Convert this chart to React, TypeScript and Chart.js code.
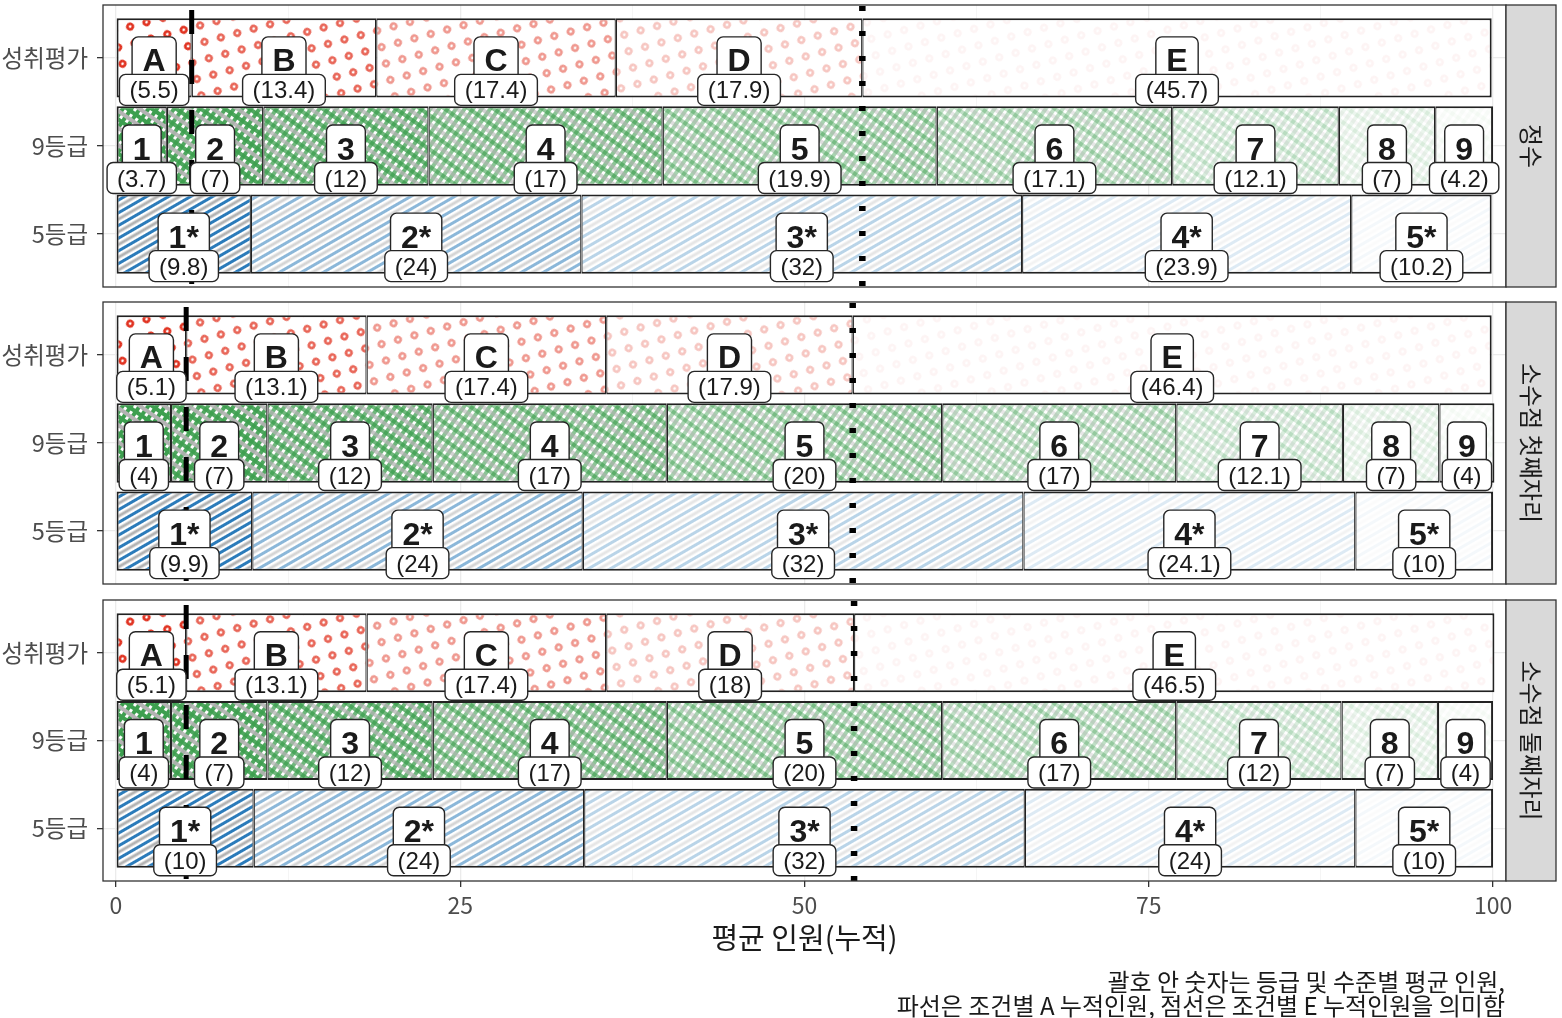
import { useEffect, useRef } from "react";
import { Chart, registerables } from "chart.js";

Chart.register(...registerables);

// 행(카테고리)과 패널
const ROWS = ["성취평가", "9등급", "5등급"];
const PANELS = ["정수", "소수점 첫째자리", "소수점 둘째자리"];

// 수준 이름
const ACHIEVE_LEVELS = ["A", "B", "C", "D", "E"];
const GRADE9_LEVELS = ["1", "2", "3", "4", "5", "6", "7", "8", "9"];
const GRADE5_LEVELS = ["1*", "2*", "3*", "4*", "5*"];

// 정수
const INT_ACHIEVE = [5.5, 13.4, 17.4, 17.9, 45.7];
const INT_GRADE9 = [3.7, 7, 12, 17, 19.9, 17.1, 12.1, 7, 4.2];
const INT_GRADE5 = [9.8, 24, 32, 23.9, 10.2];

// 소수점 첫째자리
const D1_ACHIEVE = [5.1, 13.1, 17.4, 17.9, 46.4];
const D1_GRADE9 = [4, 7, 12, 17, 20, 17, 12.1, 7, 4];
const D1_GRADE5 = [9.9, 24, 32, 24.1, 10];

// 소수점 둘째자리
const D2_ACHIEVE = [5.1, 13.1, 17.4, 18, 46.5];
const D2_GRADE9 = [4, 7, 12, 17, 20, 17, 12, 7, 4];
const D2_GRADE5 = [10, 24, 32, 24, 10];

const X_MAJOR = [0, 25, 50, 75, 100];
const X_MINOR = [12.5, 37.5, 62.5, 87.5];

const X_TITLE = "평균 인원(누적)";
const CAPTION = [
  "괄호 안 숫자는 등급 및 수준별 평균 인원,",
  "파선은 조건별 A 누적인원, 점선은 조건별 E 누적인원을 의미함",
];

const LEVELS = [ACHIEVE_LEVELS, GRADE9_LEVELS, GRADE5_LEVELS];
const PANEL_VALUES = [
  [INT_ACHIEVE, INT_GRADE9, INT_GRADE5],
  [D1_ACHIEVE, D1_GRADE9, D1_GRADE5],
  [D2_ACHIEVE, D2_GRADE9, D2_GRADE5],
];

// 패턴 농도 (수준이 낮을수록 옅어짐)
const RED_ALPHA = [1, 0.75, 0.5, 0.28, 0.05];
const GREEN_ALPHA = [1, 0.9, 0.75, 0.6, 0.45, 0.33, 0.2, 0.1, 0.03];
const BLUE_ALPHA = [1, 0.55, 0.33, 0.16, 0.05];

const RED = "#e0301e";
const GREEN = "#3d9f4f";
const BLUE = "#2b7bba";
const GREY = "#b3b3b3";

const KR_FONT = "'Noto Sans CJK KR', 'Noto Sans', sans-serif";
const LABEL_FONT = "'Liberation Sans', Arial, sans-serif";

function tile(size: number, draw: (g: CanvasRenderingContext2D) => void) {
  const c = document.createElement("canvas");
  c.width = size;
  c.height = size;
  const g = c.getContext("2d")!;
  g.fillStyle = "#fff";
  g.fillRect(0, 0, size, size);
  draw(g);
  return c;
}

function makePattern(ctx: CanvasRenderingContext2D, src: HTMLCanvasElement, angle: number) {
  const p = ctx.createPattern(src, "repeat")!;
  p.setTransform(new DOMMatrix().rotate(angle));
  return p;
}

function dotPattern(ctx: CanvasRenderingContext2D, alpha: number) {
  const t = tile(24, (g) => {
    g.globalAlpha = alpha;
    g.strokeStyle = RED;
    g.lineWidth = 2.6;
    for (const [x, y] of [[6, 6], [18, 18]]) {
      g.beginPath();
      g.arc(x, y, 2.7, 0, Math.PI * 2);
      g.stroke();
    }
  });
  return makePattern(ctx, t, 30);
}

function crossPattern(ctx: CanvasRenderingContext2D, alpha: number) {
  const t = tile(14, (g) => {
    g.globalAlpha = alpha;
    g.fillStyle = GREEN;
    g.fillRect(0, 0, 4, 14);
    g.fillRect(7, 0, 4, 14);
    g.fillRect(0, 0, 14, 4);
    g.fillStyle = GREY;
    g.fillRect(0, 7, 14, 4);
  });
  return makePattern(ctx, t, 35);
}

function stripePattern(ctx: CanvasRenderingContext2D, alpha: number) {
  const t = tile(11, (g) => {
    g.globalAlpha = alpha;
    g.fillStyle = BLUE;
    g.fillRect(0, 0, 11, 3);
    g.fillStyle = GREY;
    g.fillRect(0, 5.5, 11, 3);
  });
  return makePattern(ctx, t, -30);
}

function roundBox(ctx: CanvasRenderingContext2D, x: number, y: number, w: number, h: number) {
  ctx.beginPath();
  ctx.roundRect(x, y, w, h, 6);
  ctx.fillStyle = "#fff";
  ctx.fill();
  ctx.lineWidth = 1.4;
  ctx.strokeStyle = "#262626";
  ctx.stroke();
}

function FacetPanel({
  panel,
  top,
  height,
  showAxis,
}: {
  panel: number;
  top: number;
  height: number;
  showAxis: boolean;
}) {
  const canvasRef = useRef<HTMLCanvasElement>(null);

  useEffect(() => {
    const canvas = canvasRef.current;
    if (!canvas) return;
    const ctx = canvas.getContext("2d");
    if (!ctx) return;

    const values = PANEL_VALUES[panel];
    const patterns = [
      RED_ALPHA.map((a) => dotPattern(ctx, a)),
      GREEN_ALPHA.map((a) => crossPattern(ctx, a)),
      BLUE_ALPHA.map((a) => stripePattern(ctx, a)),
    ];

    const datasets = values.map((row, r) => {
      let cum = 0;
      const data = row.map((v) => {
        const seg = { x: [cum, cum + v], y: r + 1 };
        cum += v;
        return seg;
      });
      return {
        label: ROWS[r],
        data,
        grouped: false,
        barPercentage: 0.9,
        categoryPercentage: 1,
        backgroundColor: (c: any) => patterns[r][c.dataIndex],
        borderColor: "#222",
        borderSkipped: false,
        borderWidth: (c: any) => ({
          top: 2,
          bottom: 2,
          left: c.dataIndex === 0 ? 2 : 1.25,
          right: c.dataIndex === row.length - 1 ? 2 : 1.25,
        }),
      };
    });

    const achieve = values[0];
    const aCum = achieve[0];
    const eStart = achieve.slice(0, 4).reduce((s, v) => s + v, 0);

    const facetPlugin = {
      id: "facet",
      afterDatasetsDraw(chart: any) {
        const { ctx: g, chartArea: area, scales } = chart;
        const xs = scales.x;
        g.save();
        // 파선 (A 누적)
        g.strokeStyle = "#000";
        g.lineWidth = 5;
        g.setLineDash([24, 26]);
        g.lineDashOffset = -5;
        const xa = xs.getPixelForValue(aCum);
        g.beginPath();
        g.moveTo(xa, area.top);
        g.lineTo(xa, area.bottom);
        g.stroke();
        // 점선 (E 시작)
        g.lineWidth = 6.5;
        g.setLineDash([5, 20]);
        g.lineDashOffset = -1;
        const xe = xs.getPixelForValue(eStart);
        g.beginPath();
        g.moveTo(xe, area.top);
        g.lineTo(xe, area.bottom);
        g.stroke();
        g.setLineDash([]);

        // 라벨
        const items: { cx: number; cy: number; lv: string; val: string }[] = [];
        values.forEach((row, r) => {
          const meta = chart.getDatasetMeta(r);
          row.forEach((v, i) => {
            const el = meta.data[i];
            items.push({
              cx: (el.x + el.base) / 2,
              cy: el.y,
              lv: LEVELS[r][i],
              val: `(${v})`,
            });
          });
        });
        g.textAlign = "center";
        g.textBaseline = "alphabetic";
        g.font = `bold 32px ${LABEL_FONT}`;
        for (const it of items) {
          const w = g.measureText(it.lv).width + 21;
          roundBox(g, it.cx - w / 2, it.cy - 21, w, 44);
          g.fillStyle = "#1a1a1a";
          g.fillText(it.lv, it.cx, it.cy + 13.5);
        }
        g.font = `24px ${LABEL_FONT}`;
        for (const it of items) {
          const w = g.measureText(it.val).width + 20;
          roundBox(g, it.cx - w / 2, it.cy + 16.5, w, 31);
          g.fillStyle = "#1a1a1a";
          g.fillText(it.val, it.cx, it.cy + 40.5);
        }

        // 패널 테두리
        g.lineWidth = 1.3;
        g.strokeStyle = "#333";
        g.strokeRect(area.left, area.top, area.right - area.left, area.bottom - area.top);

        // 스트립
        const sx = area.right;
        const sw = 50;
        g.fillStyle = "#d9d9d9";
        g.fillRect(sx, area.top, sw, area.bottom - area.top);
        g.strokeRect(sx, area.top, sw, area.bottom - area.top);
        g.translate(sx + sw / 2, (area.top + area.bottom) / 2);
        g.rotate(Math.PI / 2);
        g.fillStyle = "#1a1a1a";
        g.font = `24px ${KR_FONT}`;
        g.textAlign = "center";
        g.textBaseline = "middle";
        g.fillText(PANELS[panel], 0, 0);
        g.restore();
      },
    };

    const chart = new Chart(ctx, {
      type: "bar",
      data: { datasets: datasets as any },
      options: {
        indexAxis: "y",
        animation: false,
        responsive: false,
        events: [],
        layout: { padding: { top: 5, bottom: showAxis ? 0 : 5, left: 0, right: 56 } },
        plugins: {
          legend: { display: false },
          tooltip: { enabled: false },
        },
        scales: {
          x: {
            type: "linear",
            min: -0.94,
            max: 100.94,
            afterBuildTicks: (s: any) => {
              s.ticks = [...X_MAJOR, ...X_MINOR]
                .sort((a, b) => a - b)
                .map((v) => ({ value: v }));
            },
            afterFit: (s: any) => {
              s.height = showAxis ? 137 : 0;
              s.paddingLeft = 0;
              s.paddingRight = 0;
            },
            border: { display: false },
            grid: {
              color: (c: any) => (X_MAJOR.includes(c.tick.value) ? "#ebebeb" : "#f3f3f3"),
              lineWidth: (c: any) => (X_MAJOR.includes(c.tick.value) ? 1.3 : 0.8),
              drawTicks: showAxis,
              tickLength: 6,
              tickWidth: 1.3,
              tickColor: (c: any) => (X_MAJOR.includes(c.tick.value) ? "#333" : "rgba(0,0,0,0)"),
            },
            ticks: {
              display: showAxis,
              autoSkip: false,
              maxRotation: 0,
              padding: 4,
              color: "#4d4d4d",
              font: { family: KR_FONT, size: 23 },
              callback: (v: any) => (X_MAJOR.includes(v) ? String(v) : ""),
            },
            title: {
              display: showAxis,
              text: X_TITLE,
              color: "#1a1a1a",
              font: { family: KR_FONT, size: 29 },
              padding: { top: 0, bottom: 63 },
            },
          },
          y: {
            type: "linear",
            reverse: true,
            offset: false,
            min: 0.4,
            max: 3.6,
            afterBuildTicks: (s: any) => {
              s.ticks = [1, 2, 3].map((v) => ({ value: v }));
            },
            afterFit: (s: any) => {
              s.width = 103;
              s.paddingTop = 0;
              s.paddingBottom = 0;
            },
            border: { display: false },
            grid: {
              offset: false,
              color: "#ebebeb",
              lineWidth: 1.3,
              tickLength: 6,
              tickWidth: 1.3,
              tickColor: "#333",
            },
            ticks: {
              padding: 9,
              color: "#4d4d4d",
              font: { family: KR_FONT, size: 23.5 },
              callback: (v: any) => ROWS[v - 1],
            },
          },
        },
      },
      plugins: [facetPlugin],
    } as any);

    return () => chart.destroy();
  }, [panel, showAxis]);

  return (
    <canvas
      ref={canvasRef}
      width={1562}
      height={height}
      style={{ position: "absolute", left: 0, top, width: 1562, height, display: "block" }}
    />
  );
}

export default function App() {
  return (
    <div style={{ position: "absolute", left: 0, top: 0, width: 1562, height: 1018, background: "#fff" }}>
      <FacetPanel panel={0} top={0} height={292} showAxis={false} />
      <FacetPanel panel={1} top={297} height={292} showAxis={false} />
      <FacetPanel panel={2} top={595} height={423} showAxis={true} />
      <div
        style={{
          position: "absolute",
          right: 57,
          top: 969,
          textAlign: "right",
          fontFamily: KR_FONT,
          fontSize: 24,
          lineHeight: "24px",
          color: "#1a1a1a",
          whiteSpace: "nowrap",
        }}
      >
        {CAPTION.map((line) => (
          <div key={line}>{line}</div>
        ))}
      </div>
    </div>
  );
}
